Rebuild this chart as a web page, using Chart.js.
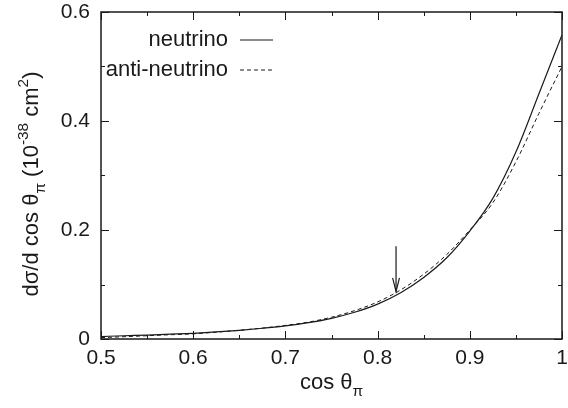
<!DOCTYPE html>
<html>
<head>
<meta charset="utf-8">
<script src="https://cdn.jsdelivr.net/npm/chart.js@4.4.1/dist/chart.umd.min.js"></script>
<style>
html,body{margin:0;padding:0;background:#fff;}
#wrap{width:568px;height:408px;}
</style>
</head>
<body>
<div id="wrap"><canvas id="c" width="568" height="408"></canvas></div>
<script>
// ---- data ----
const cosTheta = [0.5,0.525,0.55,0.575,0.6,0.625,0.65,0.675,0.7,0.725,0.75,0.775,0.8,0.825,0.85,0.875,0.9,0.925,0.95,0.975,1.0];
const neutrino = [0.0045,0.006,0.0072,0.0088,0.0105,0.013,0.016,0.0197,0.024,0.030,0.038,0.049,0.064,0.085,0.113,0.149,0.198,0.258,0.343,0.450,0.558];
const antiNeutrino = [0.0025,0.0042,0.006,0.0078,0.0095,0.0125,0.016,0.020,0.025,0.031,0.040,0.052,0.068,0.090,0.119,0.155,0.200,0.250,0.325,0.414,0.500];
const seriesLabels = ['neutrino','anti-neutrino'];
// arrow annotation
const arrowX = [0.82,0.82];
const arrowY = [0.17,0.087];
const arrowHeadX = [0.8163,0.82,0.8237];
const arrowHeadY = [0.112,0.087,0.112];
// axes
const xMin = 0.5, xMax = 1.0, xStep = 0.1, xMinorStep = 0.05;
const yMin = 0, yMax = 0.6, yStep = 0.2, yMinorStep = 0.1;
const xTickLabels = ['0.5','0.6','0.7','0.8','0.9','1'];
const yTickLabels = ['0','0.2','0.4','0.6'];

const FONT = '"Liberation Sans", Arial, Helvetica, sans-serif';
const INK = '#1a1a1a';

function pts(xs, ys){ return xs.map((x,i)=>({x:x,y:ys[i]})); }

function drawRich(ctx, parts, size){
  let w = 0;
  const segs = parts.map(p=>{
    const fs = p.s===0 ? size : size*0.7;
    ctx.font = fs+'px '+FONT;
    const m = ctx.measureText(p.t).width;
    const seg = {t:p.t, fs:fs, w:m, dy: p.s===0?0:(p.s<0? size*0.3 : -size*0.45)};
    w += m; return seg;
  });
  let x = -w/2;
  segs.forEach(s=>{
    ctx.font = s.fs+'px '+FONT;
    ctx.fillText(s.t, x, s.dy);
    x += s.w;
  });
}

const framePlugin = {
  id:'frame',
  afterDatasetsDraw(chart){
    const ctx = chart.ctx, a = chart.chartArea;
    const xs = chart.scales.x, ys = chart.scales.y;
    ctx.save();
    ctx.strokeStyle = INK;
    ctx.lineWidth = 1.5;
    ctx.strokeRect(a.left, a.top, a.right-a.left, a.bottom-a.top);
    ctx.lineWidth = 1;
    ctx.beginPath();
    const nx = Math.round((xMax-xMin)/xMinorStep);
    for(let i=0;i<=nx;i++){
      const v = xMin + i*xMinorStep;
      const px = Math.round(xs.getPixelForValue(v))+0.5;
      const len = (i%2===0)?8:4;
      ctx.moveTo(px, a.bottom); ctx.lineTo(px, a.bottom-len);
      ctx.moveTo(px, a.top); ctx.lineTo(px, a.top+len);
    }
    const ny = Math.round((yMax-yMin)/yMinorStep);
    for(let i=0;i<=ny;i++){
      const v = yMin + i*yMinorStep;
      const py = Math.round(ys.getPixelForValue(v))+0.5;
      const len = (i%2===0)?8:4;
      ctx.moveTo(a.left, py); ctx.lineTo(a.left+len, py);
      ctx.moveTo(a.right, py); ctx.lineTo(a.right-len, py);
    }
    ctx.stroke();

    // legend (text right-aligned, sample line on the right)
    const ds = chart.data.datasets;
    const textRight = 228, lineL = 240, lineR = 273;
    const rows = [40, 70];
    ctx.font = '22px '+FONT;
    ctx.fillStyle = INK;
    ctx.textAlign = 'right';
    ctx.textBaseline = 'middle';
    for(let i=0;i<2;i++){
      ctx.fillText(ds[i].label, textRight, rows[i]);
      ctx.beginPath();
      ctx.strokeStyle = INK;
      ctx.lineWidth = ds[i].borderWidth;
      ctx.setLineDash(ds[i].borderDash || []);
      ctx.moveTo(lineL, rows[i]); ctx.lineTo(lineR, rows[i]);
      ctx.stroke();
    }
    ctx.setLineDash([]);

    // axis titles
    ctx.textAlign = 'left';
    ctx.textBaseline = 'alphabetic';
    ctx.save();
    ctx.translate((a.left+a.right)/2, 389);
    drawRich(ctx, [{t:'cos θ',s:0},{t:'π',s:-1}], 22);
    ctx.restore();
    ctx.save();
    ctx.translate(38, 184);
    ctx.rotate(-Math.PI/2);
    drawRich(ctx, [{t:'dσ/d cos θ',s:0},{t:'π',s:-1},{t:' (10',s:0},{t:'-38',s:1},{t:' cm',s:0},{t:'2',s:1},{t:')',s:0}], 22);
    ctx.restore();
    ctx.restore();
  }
};

function noPad(s){ s.paddingTop = 0; s.paddingBottom = 0; s.paddingLeft = 0; s.paddingRight = 0; }

new Chart(document.getElementById('c'), {
  type:'scatter',
  data:{
    datasets:[
      {label:seriesLabels[0], data:pts(cosTheta, neutrino), showLine:true, borderColor:INK, borderWidth:1.2, pointRadius:0, cubicInterpolationMode:'monotone', fill:false},
      {label:seriesLabels[1], data:pts(cosTheta, antiNeutrino), showLine:true, borderColor:INK, borderWidth:1, borderDash:[4,3], pointRadius:0, cubicInterpolationMode:'monotone', fill:false},
      {label:'arrow', data:pts(arrowX, arrowY), showLine:true, borderColor:INK, borderWidth:1.2, pointRadius:0, fill:false},
      {label:'arrowhead', data:pts(arrowHeadX, arrowHeadY), showLine:true, borderColor:INK, borderWidth:1.2, pointRadius:0, fill:false}
    ]
  },
  options:{
    responsive:false,
    animation:false,
    devicePixelRatio:1,
    layout:{padding:{left:0,right:6,top:12,bottom:0}},
    plugins:{legend:{display:false}, tooltip:{enabled:false}},
    scales:{
      x:{type:'linear', min:xMin, max:xMax,
        grid:{display:false, drawTicks:false}, border:{display:false},
        ticks:{stepSize:xStep, padding:7, color:INK, font:{family:FONT,size:21},
          callback:(v,i)=>xTickLabels[Math.round((v-xMin)/xStep)] },
        afterFit:(s)=>{ s.height = 69; noPad(s); }
      },
      y:{type:'linear', min:yMin, max:yMax,
        grid:{display:false, drawTicks:false}, border:{display:false},
        ticks:{stepSize:yStep, padding:11, color:INK, font:{family:FONT,size:21},
          callback:(v,i)=>yTickLabels[Math.round((v-yMin)/yStep)] },
        afterFit:(s)=>{ s.width = 101; noPad(s); }
      }
    }
  },
  plugins:[framePlugin]
});
</script>
</body>
</html>
